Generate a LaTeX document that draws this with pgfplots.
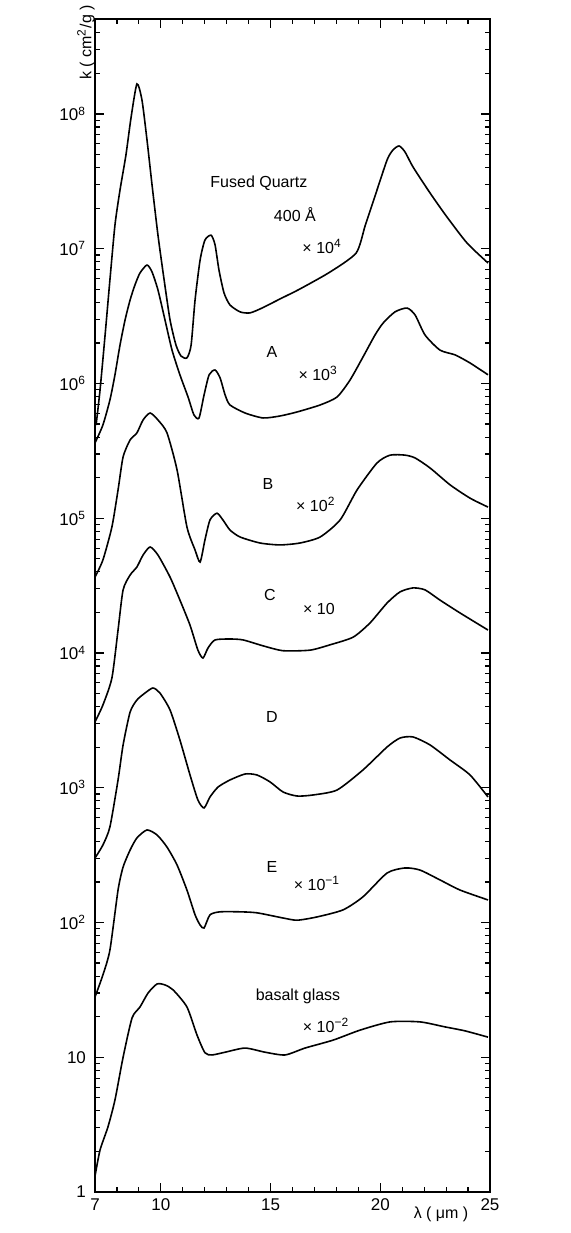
\documentclass[border=0pt]{standalone}
\usepackage{pgfplots}
\pgfplotsset{compat=1.18}
\usepackage{fontspec}
\setmainfont{Liberation Sans}
\begin{document}
\begin{tikzpicture}
\path[use as bounding box] (-47.5pt,-20.5pt) rectangle (237.5pt,596pt);
\begin{axis}[
  at={(0,0)}, anchor=south west,
  scale only axis, width=197.5pt, height=586.5pt,
  xmin=7, xmax=25, ymin=1, ymax=5.07e8,
  ymode=log,
  xtick={7,10,15,20,25},
  xticklabels={7,10,15,20,25},
  minor xtick={8,9,11,12,13,14,16,17,18,19,21,22,23,24},
  ytick={1,10,100,1e3,1e4,1e5,1e6,1e7,1e8},
  yticklabels={1,10,10\textsuperscript{2},10\textsuperscript{3},10\textsuperscript{4},10\textsuperscript{5},10\textsuperscript{6},10\textsuperscript{7},10\textsuperscript{8}},
  minor ytick={2,3,4,5,6,7,8,9,20,30,40,50,60,70,80,90,200,300,400,500,600,700,800,900,2e3,3e3,4e3,5e3,6e3,7e3,8e3,9e3,2e4,3e4,4e4,5e4,6e4,7e4,8e4,9e4,2e5,3e5,4e5,5e5,6e5,7e5,8e5,9e5,2e6,3e6,4e6,5e6,6e6,7e6,8e6,9e6,2e7,3e7,4e7,5e7,6e7,7e7,8e7,9e7,2e8,3e8,4e8,5e8},
  axis line style={line width=0.7pt},
  major tick length=4.5pt, minor tick length=2.5pt,
  every tick/.style={black, line width=0.6pt},
  tick label style={font=\fontsize{8.5}{10}\selectfont},
  yticklabel style={xshift=-1pt},
  /pgf/number format/assume math mode=true,
  clip=false,
]
% Fused Quartz 400 A  x 10^4
\addplot[black, line width=0.8pt, smooth, tension=0.4] coordinates {
(7.05,4.92e5) (7.23,8.95e5) (7.46,2.29e6) (7.68,5.87e6) (7.91,1.50e7) (8.14,2.73e7)
(8.41,4.96e7) (8.64,9.34e7) (8.91,1.67e8) (9.14,1.27e8) (9.37,6.41e7) (9.60,2.97e7)
(9.87,1.26e7) (10.15,5.87e6) (10.42,2.96e6) (10.69,1.93e6) (10.92,1.60e6) (11.19,1.55e6)
(11.38,1.93e6) (11.56,4.17e6) (11.79,8.26e6) (12.01,1.16e7) (12.29,1.26e7) (12.47,1.07e7)
(12.65,6.95e6) (12.88,4.70e6) (13.15,3.83e6) (13.61,3.40e6) (14.06,3.34e6) (14.61,3.63e6)
(15.43,4.24e6) (16.34,5.03e6) (17.71,6.72e6) (18.90,9.30e6) (19.31,1.48e7) (19.76,2.46e7)
(20.31,4.56e7) (20.58,5.41e7) (20.86,5.79e7) (21.13,5.22e7) (21.49,4.05e7) (22.27,2.59e7)
(23.04,1.72e7) (23.96,1.10e7) (24.91,7.84e6)
};
% A x 10^3
\addplot[black, line width=0.8pt, smooth, tension=0.4] coordinates {
(7.0,3.62e5) (7.36,4.92e5) (7.68,7.55e5) (7.91,1.16e6) (8.14,1.93e6) (8.37,2.96e6)
(8.60,4.17e6) (8.82,5.38e6) (9.05,6.61e6) (9.37,7.57e6) (9.60,6.72e6) (9.87,4.94e6)
(10.19,2.96e6) (10.51,1.77e6) (10.87,1.16e6) (11.24,7.94e5) (11.51,5.84e5) (11.74,5.55e5)
(11.97,8.22e5) (12.20,1.16e6) (12.47,1.26e6) (12.70,1.10e6) (12.93,8.22e5) (13.15,6.93e5)
(13.84,6.04e5) (14.66,5.55e5) (15.43,5.74e5) (16.21,6.15e5) (17.26,6.93e5) (18.03,7.94e5)
(18.62,1.06e6) (19.21,1.57e6) (19.76,2.29e6) (20.13,2.81e6) (20.67,3.40e6) (21.22,3.63e6)
(21.59,3.22e6) (22.04,2.29e6) (22.72,1.77e6) (23.41,1.63e6) (24.09,1.42e6) (24.91,1.16e6)
};
% B x 10^2
\addplot[black, line width=0.8pt, smooth, tension=0.4] coordinates {
(7.0,3.66e4) (7.36,4.90e4) (7.77,8.61e4) (8.05,1.62e5) (8.28,2.85e5) (8.60,3.81e5)
(8.91,4.30e5) (9.19,5.36e5) (9.51,6.04e5) (9.87,5.36e5) (10.28,4.30e5) (10.74,2.28e5)
(11.19,8.61e4) (11.56,5.81e4) (11.79,4.73e4) (12.01,6.90e4) (12.24,9.71e4) (12.56,1.09e5)
(12.83,9.71e4) (13.15,8.18e4) (13.61,7.26e4) (14.52,6.55e4) (15.43,6.34e4) (16.34,6.55e4)
(17.26,7.26e4) (18.17,9.71e4) (18.94,1.62e5) (19.85,2.57e5) (20.45,2.94e5) (21.13,2.94e5)
(21.59,2.80e5) (22.27,2.36e5) (23.18,1.77e5) (24.09,1.41e5) (24.91,1.21e5)
};
% C x 10
\addplot[black, line width=0.8pt, smooth, tension=0.4] coordinates {
(7.0,3.08e3) (7.36,4.11e3) (7.77,6.52e3) (8.05,1.48e4) (8.28,2.94e4) (8.60,3.79e4)
(8.91,4.35e4) (9.19,5.33e4) (9.51,6.12e4) (9.87,5.33e4) (10.42,3.66e4) (10.87,2.47e4)
(11.33,1.61e4) (11.69,1.05e4) (11.92,9.18e3) (12.15,1.09e4) (12.47,1.25e4) (13.15,1.27e4)
(13.75,1.25e4) (14.66,1.13e4) (15.57,1.04e4) (16.80,1.05e4) (17.71,1.15e4) (18.76,1.31e4)
(19.53,1.67e4) (20.31,2.35e4) (20.90,2.84e4) (21.49,3.04e4) (22.04,2.94e4) (22.72,2.47e4)
(23.64,1.98e4) (24.91,1.48e4)
};
% D
\addplot[black, line width=0.8pt, smooth, tension=0.4] coordinates {
(7.0,301) (7.36,376) (7.68,512) (8.05,1142) (8.28,2076) (8.60,3648)
(8.91,4480) (9.28,5046) (9.64,5499) (9.96,5046) (10.42,3776) (10.87,2261)
(11.33,1244) (11.69,811) (11.97,708) (12.24,854) (12.61,1013) (13.15,1142)
(13.84,1265) (14.38,1244) (14.98,1104) (15.57,930) (16.21,868) (16.94,884)
(18.03,962) (19.21,1355) (20.31,2006) (20.90,2339) (21.49,2382) (22.27,2076)
(23.18,1607) (24.09,1244) (24.91,854)
};
% E x 10^-1
\addplot[black, line width=0.8pt, smooth, tension=0.4] coordinates {
(7.0,28.0) (7.36,40.8) (7.68,62.5) (8.05,174) (8.28,258) (8.60,345)
(8.91,424) (9.37,486) (9.83,446) (10.28,363) (10.74,267) (11.19,174)
(11.56,114) (11.79,95.8) (11.97,91.0) (12.24,114) (12.70,120) (13.61,120)
(14.38,118) (15.57,108) (16.21,104) (17.12,110) (18.30,124) (19.21,155)
(20.31,233) (21.13,254) (21.81,245) (22.72,207) (23.64,174) (24.91,147)
};
% basalt glass x 10^-2
\addplot[black, line width=0.8pt, smooth, tension=0.4] coordinates {
(7.0,1.31) (7.23,2.05) (7.59,3.04) (7.91,4.82) (8.28,10.0) (8.69,19.6)
(9.05,23.6) (9.42,30.0) (9.83,35.0) (10.19,34.4) (10.56,31.6) (11.19,23.6)
(11.65,14.6) (12.01,10.8) (12.33,10.4) (12.93,10.9) (13.84,11.7) (14.75,10.9)
(15.66,10.4) (16.57,11.7) (17.85,13.4) (19.08,15.9) (20.45,18.3) (21.81,18.3)
(22.95,16.8) (23.86,15.7) (24.91,14.1)
};
\begin{scope}[every node/.style={font=\fontsize{8}{9.5}\selectfont, inner sep=0pt}]
\node at (axis description cs:0.415,0.860) {Fused Quartz};
\node at (axis description cs:0.506,0.833) {400 Å};
\node at (axis description cs:0.575,0.806) {× 10\textsuperscript{4}};
\node at (axis description cs:0.448,0.716) {A};
\node at (axis description cs:0.565,0.698) {× 10\textsuperscript{3}};
\node at (axis description cs:0.438,0.604) {B};
\node at (axis description cs:0.559,0.586) {× 10\textsuperscript{2}};
\node at (axis description cs:0.443,0.509) {C};
\node at (axis description cs:0.567,0.497) {× 10};
\node at (axis description cs:0.448,0.405) {D};
\node at (axis description cs:0.448,0.277) {E};
\node at (axis description cs:0.562,0.263) {× 10\textsuperscript{−1}};
\node at (axis description cs:0.514,0.167) {basalt glass};
\node at (axis description cs:0.585,0.142) {× 10\textsuperscript{−2}};
\node at (axis description cs:0.876,-0.019) {λ  ( μm )};
\node[rotate=90, anchor=east] at (axis description cs:-0.023,1.012) {k  ( cm\textsuperscript{2}/g )};
\end{scope}
\end{axis}
\end{tikzpicture}
\end{document}
